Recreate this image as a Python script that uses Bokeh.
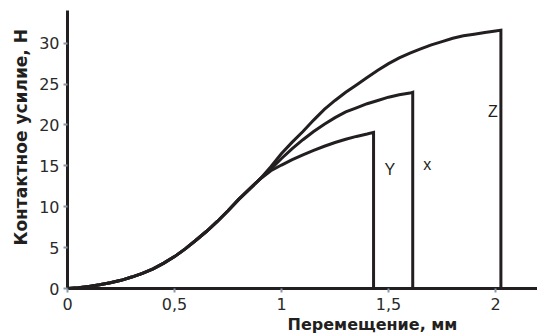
from bokeh.plotting import figure
from bokeh.models import Range1d, FixedTicker, ColumnDataSource, Title
from bokeh.core.properties import value
from bokeh.embed import file_html
from bokeh.resources import INLINE

# ---- data ----
common_x = [0, 0.05, 0.1, 0.15, 0.2, 0.25, 0.3, 0.35, 0.4, 0.45, 0.5, 0.55,
            0.6, 0.65, 0.7, 0.75, 0.8, 0.85, 0.9]
common_y = [0, 0.08, 0.25, 0.45, 0.7, 1.0, 1.4, 1.85, 2.4, 3.1, 3.9, 4.85,
            5.9, 7.0, 8.2, 9.5, 10.9, 12.15, 13.4]

y_x = [0.95, 1.0, 1.05, 1.1, 1.15, 1.2, 1.25, 1.3, 1.35, 1.4, 1.43, 1.43]
y_y = [14.4, 15.1, 15.75, 16.35, 16.9, 17.4, 17.85, 18.25, 18.6, 18.9, 19.1, 0]

x_x = [0.95, 1.0, 1.05, 1.1, 1.15, 1.2, 1.25, 1.3, 1.35, 1.4, 1.45, 1.5,
       1.55, 1.6, 1.613, 1.613]
x_y = [14.6, 15.9, 17.1, 18.2, 19.2, 20.1, 20.9, 21.6, 22.1, 22.6, 23.0, 23.4,
       23.7, 23.9, 24.0, 0]

z_x = [0.95, 1.0, 1.05, 1.1, 1.15, 1.2, 1.25, 1.3, 1.35, 1.4, 1.45, 1.5,
       1.55, 1.6, 1.65, 1.7, 1.75, 1.8, 1.85, 1.9, 1.95, 2.0, 2.025, 2.025]
z_y = [14.9, 16.5, 17.9, 19.2, 20.6, 21.9, 23.0, 24.0, 24.9, 25.8, 26.7, 27.5,
       28.2, 28.8, 29.3, 29.8, 30.2, 30.6, 30.9, 31.1, 31.3, 31.5, 31.6, 0]

curve_names = ["Y", "x", "Z"]
name_x = [1.506, 1.681, 1.987]
name_y = [14.5, 15.2, 21.7]

x_ticks = [0, 0.5, 1, 1.5, 2]
x_tick_labels = ["0", "0,5", "1", "1,5", "2"]
y_ticks = [0, 5, 10, 15, 20, 25, 30]

x_title = "Перемещение, мм"
y_title = "Контактное усилие, Н"

INK = "#231f20"

p = figure(width=537, height=333, output_backend="svg", toolbar_location=None,
           x_range=Range1d(0, 2.196), y_range=Range1d(0, 34),
           min_border_left=67, min_border_right=0, min_border_top=10,
           min_border_bottom=40)
p.outline_line_color = None
p.xgrid.grid_line_color = None
p.ygrid.grid_line_color = None
p.background_fill_color = "white"
p.border_fill_color = "white"

for xs, ys in [(common_x + y_x, common_y + y_y),
               (common_x + x_x, common_y + x_y),
               (common_x + z_x, common_y + z_y)]:
    p.line(xs, ys, line_width=3, line_color=INK, line_join="miter")

src = ColumnDataSource(dict(x=name_x, y=name_y, t=curve_names))
p.text(x="x", y="y", text="t", source=src, text_font=value("Liberation Sans"),
       text_font_size="16px", text_color=INK, text_align="center",
       text_baseline="middle")

for ax in (p.xaxis[0], p.yaxis[0]):
    ax.axis_line_width = 3
    ax.axis_line_color = INK
    ax.major_tick_line_color = "#8a98a8"
    ax.major_tick_line_width = 2
    ax.major_tick_out = 4
    ax.major_tick_in = 0
    ax.minor_tick_line_color = None
    ax.major_label_text_font = "DejaVu Sans"
    ax.major_label_text_font_size = "16px"
    ax.major_label_text_color = "#2a2a2a"

p.xaxis[0].ticker = FixedTicker(ticks=x_ticks)
p.xaxis[0].major_label_overrides = {t: l for t, l in zip(x_ticks, x_tick_labels)}
p.xaxis[0].major_label_standoff = 5
p.yaxis[0].ticker = FixedTicker(ticks=y_ticks)
p.yaxis[0].major_label_standoff = 4

p.add_layout(Title(text=x_title, text_font="DejaVu Sans", text_font_style="bold",
                   text_font_size="16px", text_color=INK, align="left",
                   offset=220, standoff=0), "below")
p.add_layout(Title(text=y_title, text_font="DejaVu Sans", text_font_style="bold",
                   text_font_size="17px", text_color=INK, align="left",
                   offset=43, standoff=11), "left")

open("out.html", "w").write(file_html(p, INLINE))
